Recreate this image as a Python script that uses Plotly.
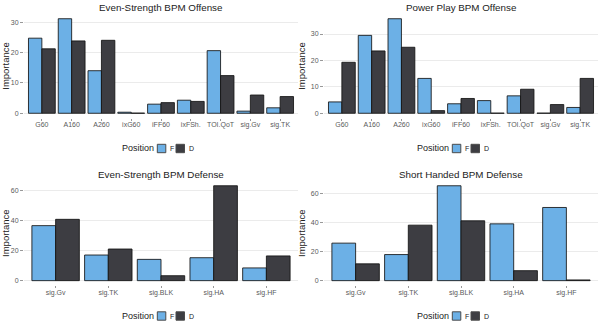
import plotly.graph_objects as go

# ---- data ----
off_cats = ["G60", "A160", "A260", "ixG60", "iFF60", "ixFSh.", "TOI.QoT", "sig.Gv", "sig.TK"]
es_off_F = [24.7, 31.1, 14.0, 0.35, 3.0, 4.3, 20.6, 0.7, 1.8]
es_off_D = [21.2, 23.8, 24.0, 0.05, 3.5, 3.9, 12.4, 6.0, 5.5]
pp_off_F = [4.3, 29.5, 35.8, 13.2, 3.6, 4.8, 6.6, 0.05, 2.2]
pp_off_D = [19.3, 23.6, 25.0, 1.0, 5.6, 0.05, 9.1, 3.3, 13.2]

def_cats = ["sig.Gv", "sig.TK", "sig.BLK", "sig.HA", "sig.HF"]
es_def_F = [36.7, 17.1, 14.2, 15.3, 8.5]
es_def_D = [40.9, 21.1, 3.3, 63.3, 16.5]
sh_def_F = [25.9, 18.0, 65.5, 39.2, 50.5]
sh_def_D = [11.6, 38.3, 41.3, 6.9, 0.5]

titles = ["Even-Strength BPM Offense", "Power Play BPM Offense",
          "Even-Strength BPM Defense", "Short Handed BPM Defense"]
positions = ["F", "D"]
legend_title = "Position"

# ---- style ----
W, H = 600, 326
COL = {"F": "#6cb0e6", "D": "#3d3d42"}
FONT = "Liberation Sans, Arial, sans-serif"
TICKC = "#5a5a5a"

panels = [
    (off_cats, es_off_F, es_off_D, 10, (24, 298), (14, 118), 0, 148.5),
    (off_cats, pp_off_F, pp_off_D, 10, (324, 598), (14, 118), 295, 148.5),
    (def_cats, es_def_F, es_def_D, 20, (24, 298), (181, 285.4), 0, 316),
    (def_cats, sh_def_F, sh_def_D, 20, (324, 598), (181, 285.4), 295, 316),
]

fig = go.Figure()
annotations = []
shapes = []
layout = dict(
    width=W, height=H,
    margin=dict(l=0, r=0, t=0, b=0),
    paper_bgcolor="white", plot_bgcolor="white",
    barmode="group", bargap=0.1, bargroupgap=0,
    font=dict(family=FONT, size=9, color="#222"),
    showlegend=False,
)

def px(x):
    return x / W

def py(y):
    return 1 - y / H

for i, (cats, fv, dv, dt, (x0, x1), (y0, y1), lx, ly) in enumerate(panels):
    n = i + 1
    sfx = "" if n == 1 else str(n)
    for pos, vals in zip(positions, [fv, dv]):
        fig.add_trace(go.Bar(
            x=cats, y=vals, name=pos,
            xaxis="x" + sfx, yaxis="y" + sfx,
            marker=dict(color=COL[pos], line=dict(color="rgba(20,20,20,0.85)", width=1)),
            offsetgroup=pos,
        ))
    ymax = max(fv + dv)
    layout["xaxis" + sfx] = dict(
        domain=[px(x0), px(x1)], anchor="y" + sfx,
        showgrid=False, zeroline=False, showline=False,
        ticks="outside", ticklen=2, tickcolor="#999", tickwidth=1,
        ticklabelstandoff=-2,
        tickfont=dict(size=7, color=TICKC, family=FONT),
        range=[-0.6, len(cats) - 0.4], fixedrange=True,
    )
    layout["yaxis" + sfx] = dict(
        domain=[py(y1), py(y0)], anchor="x" + sfx,
        range=[-0.05 * ymax, 1.05 * ymax], dtick=dt,
        showgrid=True, gridcolor="#ebebeb", gridwidth=1,
        zeroline=False, showline=False,
        ticks="outside", ticklen=3, tickcolor="#999", tickwidth=1,
        tickfont=dict(size=7, color=TICKC, family=FONT),
        title=dict(text="Importance", font=dict(size=9.5, color="#222"), standoff=3),
    )
    annotations.append(dict(
        text=titles[i], xref="paper", yref="paper",
        x=px((x0 + x1) / 2), y=py(y0 - 6.5), xanchor="center", yanchor="middle",
        showarrow=False, font=dict(size=9.8, color="#222", family=FONT),
    ))
    # legend (ggplot-style, bottom)
    annotations.append(dict(
        text=legend_title, xref="paper", yref="paper",
        x=px(156 + lx), y=py(ly), xanchor="right", yanchor="middle",
        showarrow=False, font=dict(size=9, color="#222", family=FONT),
    ))
    kx = 157.3 + lx
    for pos in positions:
        shapes.append(dict(
            type="rect", xref="paper", yref="paper",
            x0=px(kx), x1=px(kx + 8.5), y0=py(ly + 4.2), y1=py(ly - 4.2),
            fillcolor=COL[pos], line=dict(color="#4a4a4a", width=1),
        ))
        annotations.append(dict(
            text=pos, xref="paper", yref="paper",
            x=px(kx + 10.5), y=py(ly), xanchor="left", yanchor="middle",
            showarrow=False, font=dict(size=7, color="#222", family=FONT),
        ))
        kx += 18.7

layout["annotations"] = annotations
layout["shapes"] = shapes
fig.update_layout(**layout)
fig.write_html("out.html")
